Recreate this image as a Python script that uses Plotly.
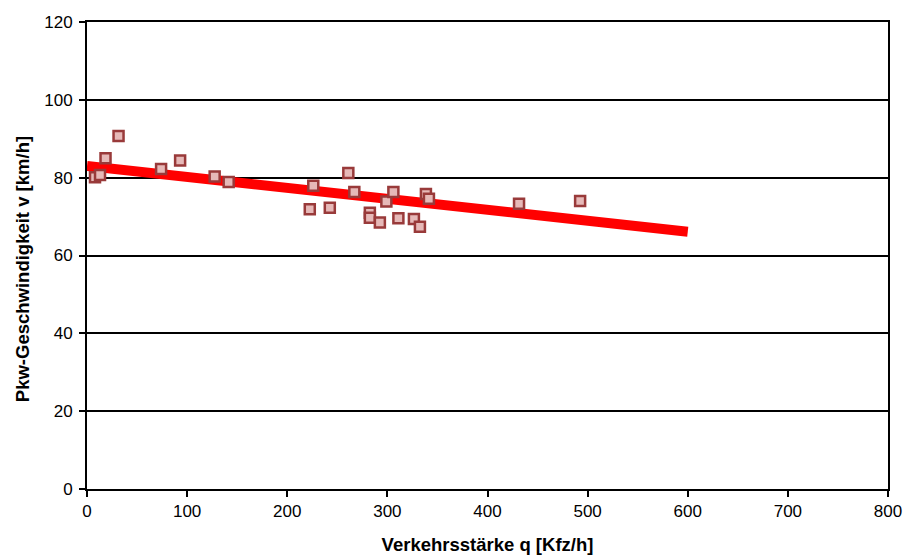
import plotly.graph_objects as go

# Measured traffic volume (veh/h) and mean passenger-car speed (km/h)
q_kfz = [8, 13, 18.5, 31.5, 74, 93, 127.5, 141.5, 222.5, 226, 242.5, 261, 267,
         282.5, 282.5, 292.5, 299, 306, 311, 326.5, 332.5, 338.5, 341.5, 431.5, 492.5]
v_pkw = [80.1, 80.7, 85.0, 90.7, 82.2, 84.4, 80.3, 78.9, 71.9, 77.9, 72.3, 81.2, 76.3,
         71.0, 69.7, 68.5, 73.9, 76.3, 69.6, 69.4, 67.4, 75.8, 74.6, 73.3, 74.0]

# Linear regression line endpoints
trend_q = [0, 600]
trend_v = [83.0, 66.1]

x_ticks = [0, 100, 200, 300, 400, 500, 600, 700, 800]
y_ticks = [0, 20, 40, 60, 80, 100, 120]

fig = go.Figure()
fig.add_trace(go.Scatter(
    x=trend_q, y=trend_v, mode="lines",
    line=dict(color="#FF0000", width=10), hoverinfo="skip", showlegend=False,
))
fig.add_trace(go.Scatter(
    x=q_kfz, y=v_pkw, mode="markers",
    marker=dict(symbol="square", size=10, color="#E6B9B8",
                line=dict(color="#993A3A", width=2.5)),
    showlegend=False,
))

font = "Liberation Sans, Arial, sans-serif"
fig.update_layout(
    width=905, height=556,
    margin=dict(l=87, r=17, t=22, b=67),
    paper_bgcolor="white", plot_bgcolor="white",
    font=dict(family=font, size=16, color="black"),
    xaxis=dict(
        range=[0, 800], tickvals=x_ticks, showgrid=False, zeroline=False,
        showline=True, linecolor="black", linewidth=2, mirror=True,
        ticks="outside", ticklen=6, tickwidth=2, tickcolor="black",
        tickfont=dict(size=17), automargin=False,
        title=dict(text="<b>Verkehrsstärke q [Kfz/h]</b>", font=dict(size=18.5), standoff=18),
    ),
    yaxis=dict(
        range=[0, 120], tickvals=y_ticks, showgrid=True, gridcolor="black", gridwidth=2,
        zeroline=False, showline=True, linecolor="black", linewidth=2, mirror=True,
        ticks="outside", ticklen=6, tickwidth=2, tickcolor="black",
        tickfont=dict(size=17), automargin=False, ticklabelstandoff=3,
    ),
    annotations=[dict(
        text="<b>Pkw-Geschwindigkeit v [km/h]</b>", textangle=-90,
        xref="paper", yref="paper", x=-0.081, y=0.471,
        xanchor="center", yanchor="middle", showarrow=False,
        font=dict(size=18.5),
    )],
)

fig.write_html("out.html")
